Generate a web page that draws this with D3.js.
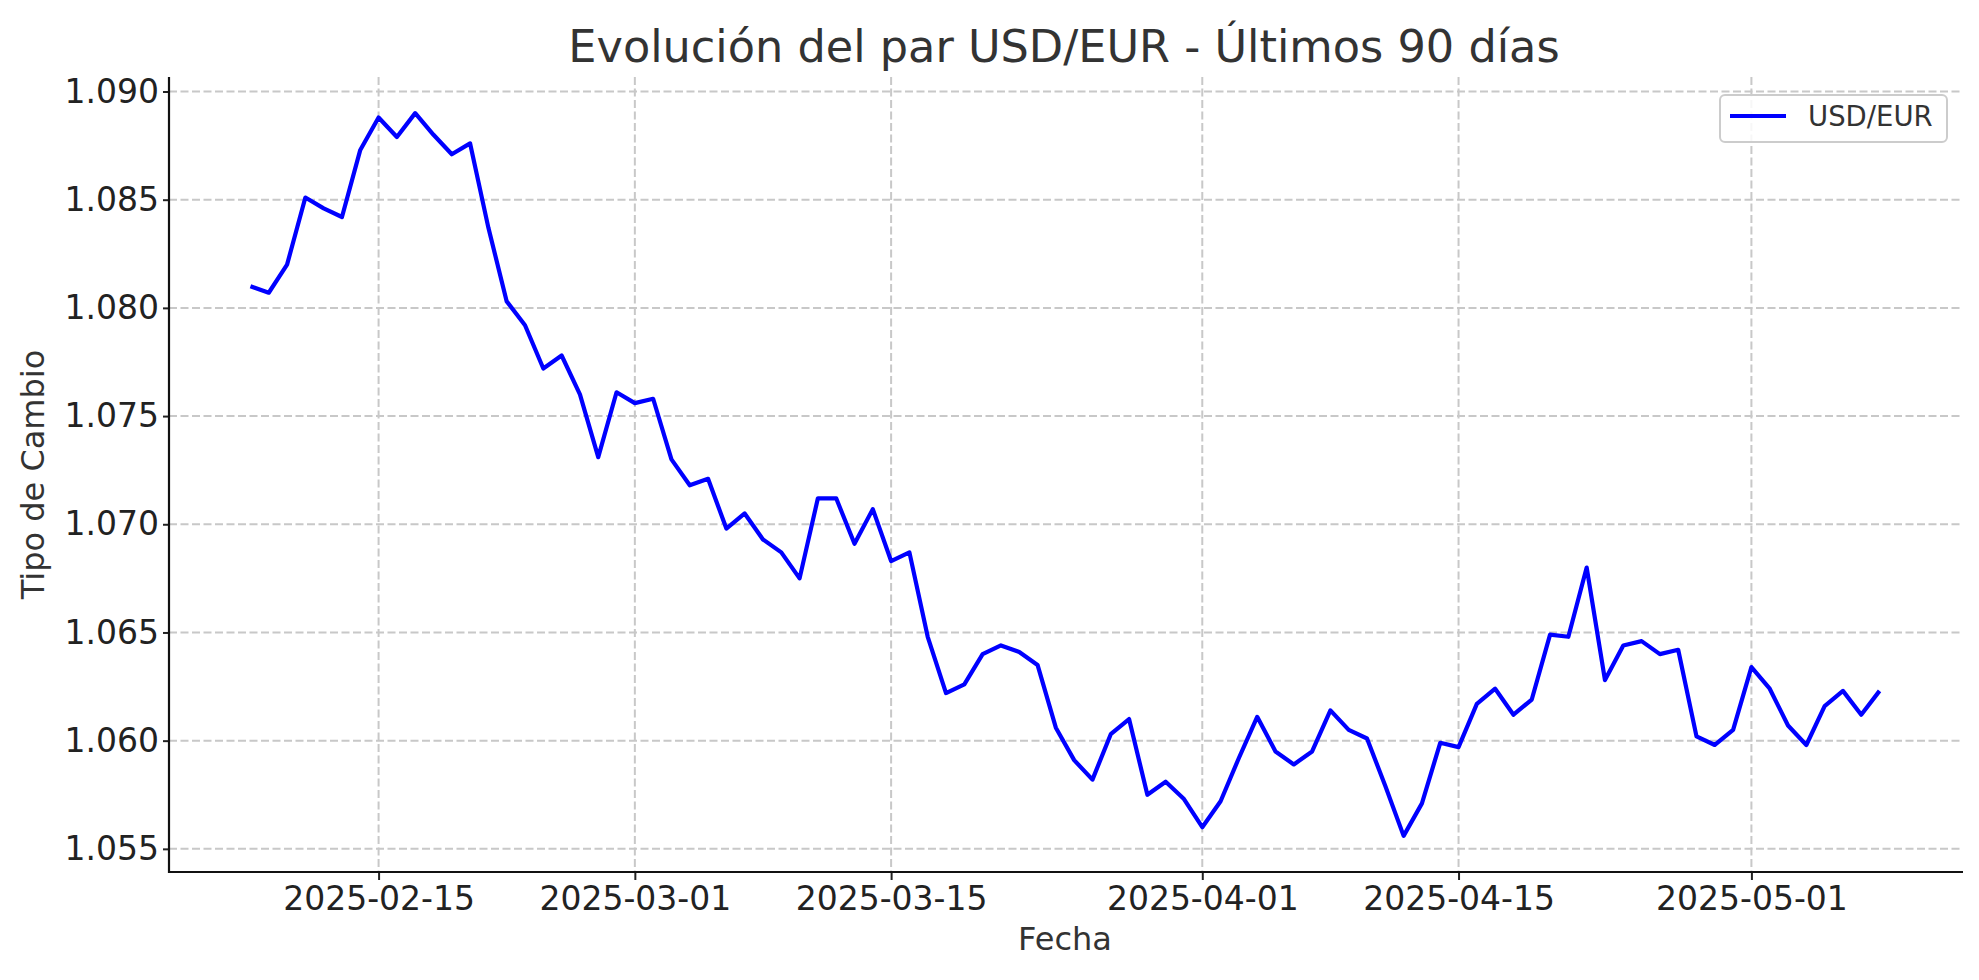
<!DOCTYPE html>
<html>
<head>
<meta charset="utf-8">
<script src="https://cdn.jsdelivr.net/npm/d3@7"></script>
<style>
  html, body { margin: 0; padding: 0; background: #ffffff; }
  svg { display: block; font-family: "DejaVu Sans", sans-serif; }
</style>
</head>
<body>
<svg id="chart" width="1979" height="980"></svg>
<script>
// ---- data ----
const startDate = "2025-02-08";
const endDate = "2025-05-08";
const seriesName = "USD/EUR";
const rates = [
  1.0810, 1.0807, 1.0820, 1.0851, 1.0846, 1.0842, 1.0873, 1.0888, 1.0879, 1.0890,
  1.0880, 1.0871, 1.0876, 1.0837, 1.0803, 1.0792, 1.0772, 1.0778, 1.0760, 1.0731,
  1.0761, 1.0756, 1.0758, 1.0730, 1.0718, 1.0721, 1.0698, 1.0705, 1.0693, 1.0687,
  1.0675, 1.0712, 1.0712, 1.0691, 1.0707, 1.0683, 1.0687, 1.0648, 1.0622, 1.0626,
  1.0640, 1.0644, 1.0641, 1.0635, 1.0606, 1.0591, 1.0582, 1.0603, 1.0610, 1.0575,
  1.0581, 1.0573, 1.0560, 1.0572, 1.0592, 1.0611, 1.0595, 1.0589, 1.0595, 1.0614,
  1.0605, 1.0601, 1.0579, 1.0556, 1.0571, 1.0599, 1.0597, 1.0617, 1.0624, 1.0612,
  1.0619, 1.0649, 1.0648, 1.0680, 1.0628, 1.0644, 1.0646, 1.0640, 1.0642, 1.0602,
  1.0598, 1.0605, 1.0634, 1.0624, 1.0607, 1.0598, 1.0616, 1.0623, 1.0612, 1.0623
];
const xTickLabels = ["2025-02-15", "2025-03-01", "2025-03-15", "2025-04-01", "2025-04-15", "2025-05-01"];
const yTickValues = [1.055, 1.060, 1.065, 1.070, 1.075, 1.080, 1.085, 1.090];
const titleText = "Evolución del par USD/EUR - Últimos 90 días";
const xLabel = "Fecha";
const yLabel = "Tipo de Cambio";

// ---- build ----
(function () {
const parse = d3.utcParse("%Y-%m-%d");
const dates = d3.utcDay.range(parse(startDate), d3.utcDay.offset(parse(endDate), 1));
const data = dates.map((d, i) => ({ date: d, value: rates[i] }));

const svg = d3.select("#chart");
const pL = 169, pR = 1961, pT = 77, pB = 872;

const [d0, d1] = d3.extent(dates);
const span = d1 - d0;
const x = d3.scaleUtc()
  .domain([new Date(+d0 - span * 0.05), new Date(+d1 + span * 0.05)])
  .range([pL, pR]);

const [v0, v1] = d3.extent(rates);
const vs = v1 - v0;
const y = d3.scaleLinear()
  .domain([v0 - vs * 0.05, v1 + vs * 0.05])
  .range([pB, pT]);

const xTicks = xTickLabels.map(parse);

// grid
const grid = svg.append("g");
grid.selectAll("line.gx").data(xTicks).join("line")
  .attr("x1", d => x(d)).attr("x2", d => x(d))
  .attr("y1", pT).attr("y2", pB)
  .attr("stroke", "#c8c8c8").attr("stroke-width", 2)
  .attr("stroke-dasharray", "8,3.5");
grid.selectAll("line.gy").data(yTickValues).join("line")
  .attr("x1", pL).attr("x2", pR)
  .attr("y1", d => y(d)).attr("y2", d => y(d))
  .attr("stroke", "#c8c8c8").attr("stroke-width", 2)
  .attr("stroke-dasharray", "8,3.5");

// line
const line = d3.line().x(d => x(d.date)).y(d => y(d.value));
svg.append("path").datum(data)
  .attr("d", line)
  .attr("fill", "none")
  .attr("stroke", "#0000ff")
  .attr("stroke-width", 4.2)
  .attr("stroke-linejoin", "round")
  .attr("stroke-linecap", "butt");

// axes
const xAxis = d3.axisBottom(x).tickValues(xTicks)
  .tickFormat(d3.utcFormat("%Y-%m-%d")).tickSize(8).tickPadding(7);
const yAxis = d3.axisLeft(y).tickValues(yTickValues)
  .tickFormat(d3.format(".3f")).tickSize(6).tickPadding(4);

const gx = svg.append("g").attr("transform", `translate(0,${pB})`).call(xAxis);
const gy = svg.append("g").attr("transform", `translate(${pL},0)`).call(yAxis);
[gx, gy].forEach(g => {
  g.select(".domain").remove();
  g.selectAll(".tick line").attr("stroke", "#222").attr("stroke-width", 2);
  g.selectAll(".tick text").attr("fill", "#222")
    .style("font-size", "33px").style("font-family", "DejaVu Sans, sans-serif");
});
// spines (left, bottom)
svg.append("line").attr("x1", pL).attr("x2", pR + 2)
  .attr("y1", pB).attr("y2", pB)
  .attr("stroke", "#111").attr("stroke-width", 2.2);
svg.append("line").attr("x1", pL).attr("x2", pL)
  .attr("y1", pT).attr("y2", pB + 1)
  .attr("stroke", "#111").attr("stroke-width", 2.2);

// title and labels
svg.append("text").attr("x", (pL + pR) / 2 - 1).attr("y", 62)
  .attr("text-anchor", "middle").attr("fill", "#333")
  .style("font-size", "44.6px").text(titleText);
svg.append("text").attr("x", (pL + pR) / 2).attr("y", 950)
  .attr("text-anchor", "middle").attr("fill", "#333")
  .style("font-size", "32px").text(xLabel);
svg.append("text")
  .attr("transform", `translate(44,${(pT + pB) / 2}) rotate(-90)`)
  .attr("text-anchor", "middle").attr("fill", "#333")
  .style("font-size", "32px").text(yLabel);

// legend
const lg = svg.append("g");
lg.append("rect").attr("x", 1720).attr("y", 95).attr("width", 227).attr("height", 47)
  .attr("rx", 5).attr("fill", "#ffffff").attr("fill-opacity", 0.85)
  .attr("stroke", "#cccccc").attr("stroke-width", 2);
lg.append("line").attr("x1", 1730).attr("x2", 1786).attr("y1", 116).attr("y2", 116)
  .attr("stroke", "#0000ff").attr("stroke-width", 4.2);
lg.append("text").attr("x", 1808).attr("y", 126).attr("fill", "#333")
  .style("font-size", "27.5px").text(seriesName);
})();
</script>
</body>
</html>
